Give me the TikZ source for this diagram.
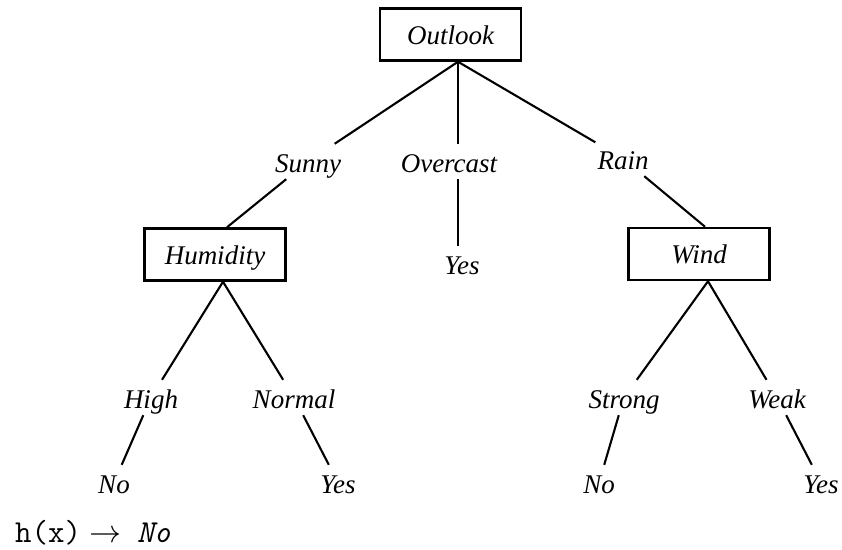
\RequirePackage{fix-cm}
\documentclass[tikz,border=0pt]{standalone}
\usepackage{fontspec}
\setmainfont{Liberation Serif}
\begin{document}
\begin{tikzpicture}[x=1pt,y=-1pt,
  every node/.style={font=\fontsize{27}{30}\selectfont\itshape},
  attr/.style={draw, line width=2.5pt, minimum width=141pt, minimum height=52pt,
    text height=19.5pt, text depth=0pt, inner sep=0pt},
  lbl/.style={anchor=base, text height=23pt, text depth=2pt, inner xsep=2pt, inner ysep=5pt},
  edge/.style={line width=2.1pt}]
\useasboundingbox (0,0) rectangle (842,549);
% attribute boxes
\node[attr] (outlook) at (450.5,34.5) {Outlook};
\node[attr] (hum) at (215,254.5) {Humidity};
\node[attr] (wind) at (699,254) {Wind};
% apexes
\coordinate (oapex) at ([xshift=7.5pt]outlook.south);
\coordinate (htop) at ([xshift=12pt]hum.north);
\coordinate (hapex) at ([xshift=8pt]hum.south);
\coordinate (wtop) at ([xshift=6pt]wind.north);
\coordinate (wapex) at ([xshift=9pt]wind.south);
% value labels
\node[lbl] (sunny) at (308,172) {Sunny};
\node[lbl] (overcast) at (449,172) {Overcast};
\node[lbl] (rain) at (623,169) {Rain};
\node[lbl] (yesmid) at (462,274) {Yes};
\node[lbl] (high) at (151,408) {High};
\node[lbl] (normal) at (294,408) {Normal};
\node[lbl] (strong) at (624,408) {Strong};
\node[lbl] (weak) at (777,408) {Weak};
\node[lbl] (no1) at (114,493) {No};
\node[lbl] (yes1) at (338,493) {Yes};
\node[lbl] (no2) at (599,493) {No};
\node[lbl] (yes2) at (821,493) {Yes};
% edges
\draw[edge] (oapex) -- (sunny);
\draw[edge] (sunny) -- (htop);
\draw[edge] (oapex) -- (oapex |- overcast.north);
\draw[edge] (oapex |- overcast.south) -- (oapex |- yesmid.north);
\draw[edge] (oapex) -- (rain);
\draw[edge] (rain) -- (wtop);
\draw[edge] (hapex) -- (high);
\draw[edge] (hapex) -- (normal);
\draw[edge] (high) -- (no1);
\draw[edge] (normal) -- (yes1);
\draw[edge] (wapex) -- (strong);
\draw[edge] (wapex) -- (weak);
\draw[edge] (strong) -- (no2);
\draw[edge] (weak) -- (yes2);
% hypothesis
\node[anchor=base west, inner sep=0pt, font=\fontsize{32}{36}\selectfont] (hx) at (15,542)
  {\ttfamily h(x)\hspace{8pt}$\rightarrow$\hspace{16pt}{\ttfamily\itshape No}};
\end{tikzpicture}
\end{document}
